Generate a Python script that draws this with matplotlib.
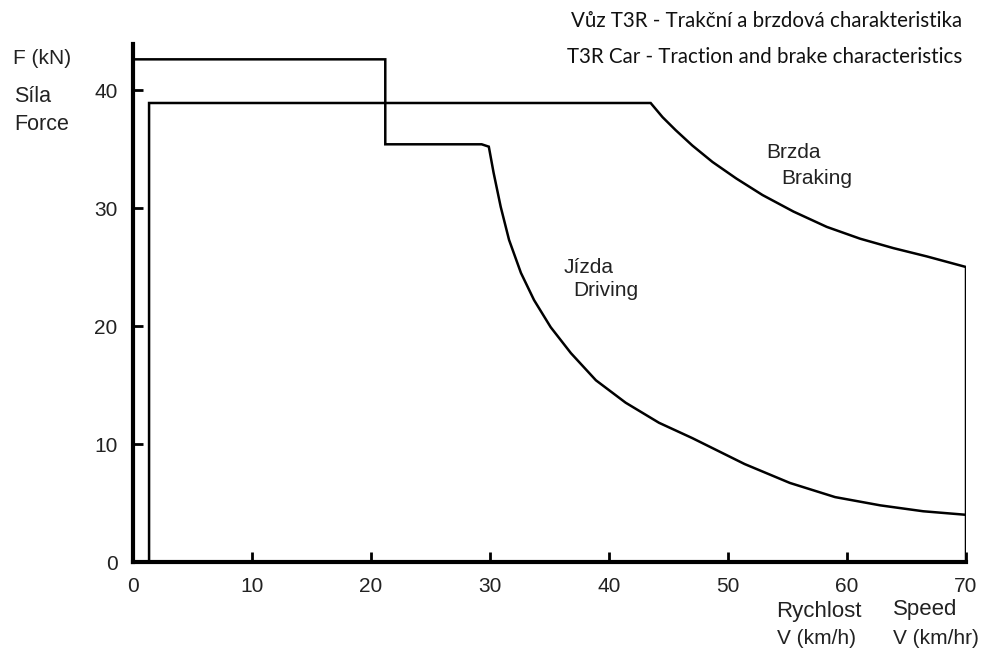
import matplotlib
matplotlib.use("Agg")
import matplotlib.pyplot as plt

# traction (Jizda / Driving) characteristic
drive_v = [0, 21.2, 21.2, 29.3, 29.9, 30.3, 30.9, 31.6, 32.6, 33.7, 35.1, 36.8,
           38.9, 41.4, 44.2, 47.0, 51.4, 55.2, 59.0, 62.8, 66.4, 70.0]
drive_f = [42.6, 42.6, 35.4, 35.4, 35.2, 33.0, 30.1, 27.3, 24.5, 22.2, 19.9, 17.7,
           15.4, 13.5, 11.8, 10.5, 8.3, 6.7, 5.5, 4.8, 4.3, 4.0]

# brake (Brzda / Braking) characteristic
brake_v = [1.35, 1.35, 43.5, 44.5, 45.6, 47.0, 48.7, 50.7, 52.9, 55.5, 58.3,
           61.1, 63.9, 66.7, 70.0, 70.0]
brake_f = [0, 38.9, 38.9, 37.7, 36.6, 35.3, 33.9, 32.5, 31.1, 29.7, 28.4,
           27.4, 26.6, 25.9, 25.0, 0]

xticks = [0, 10, 20, 30, 40, 50, 60, 70]
yticks = [0, 10, 20, 30, 40]

W, H = 994, 652
fig = plt.figure(figsize=(W / 100, H / 100), dpi=100)
ax = fig.add_axes([133 / W, 1 - 562 / H, (966 - 133) / W, (562 - 44) / H])

ax.plot(drive_v, drive_f, color='black', lw=1.8, solid_joinstyle='miter')
ax.plot(brake_v, brake_f, color='black', lw=1.8, solid_joinstyle='miter')

ax.set_xlim(0, 70)
ax.set_ylim(0, 43.9)
ax.set_xticks(xticks)
ax.set_yticks(yticks)
for s in ['top', 'right']:
    ax.spines[s].set_visible(False)
for s in ['left', 'bottom']:
    ax.spines[s].set_linewidth(3)
ax.tick_params(direction='in', length=7, width=2, pad=11, labelsize=15)
for lab in ax.get_xticklabels() + ax.get_yticklabels():
    lab.set_fontfamily('Liberation Sans')
    lab.set_color('#222222')

sans = 'Liberation Sans'
grey = '#222222'
fig.text(13 / W, 1 - 59 / H, 'F (kN)', fontsize=15, family=sans, va='center', color=grey)
fig.text(14 / W, 1 - 96 / H, 'Síla', fontsize=15.5, family=sans, va='center', color=grey)
fig.text(14 / W, 1 - 125 / H, 'Force', fontsize=15.5, family=sans, va='center', color=grey)

fig.text(776 / W, 1 - 611 / H, 'Rychlost', fontsize=16, family=sans, va='center', color=grey)
fig.text(777 / W, 1 - 638 / H, 'V (km/h)', fontsize=15, family=sans, va='center', color=grey)
fig.text(893 / W, 1 - 609 / H, 'Speed', fontsize=16, family=sans, va='center', color=grey)
fig.text(893 / W, 1 - 638 / H, 'V (km/hr)', fontsize=15, family=sans, va='center', color=grey)

ax.text(36.2, 25.0, 'Jízda', fontsize=15, family=sans, va='center', color=grey)
ax.text(37.0, 23.0, 'Driving', fontsize=15, family=sans, va='center', color=grey)
ax.text(53.2, 34.7, 'Brzda', fontsize=15, family=sans, va='center', color=grey)
ax.text(54.5, 32.5, 'Braking', fontsize=15, family=sans, va='center', color=grey)

fig.text(962 / W, 1 - 21 / H, 'Vůz T3R - Trakční a brzdová charakteristika',
         fontsize=14.8, family='Lato', ha='right', va='center', color='#111111')
fig.text(962 / W, 1 - 57 / H, 'T3R Car - Traction and brake characteristics',
         fontsize=14.8, family='Lato', ha='right', va='center', color='#111111')

fig.savefig('out.png', dpi=100)
